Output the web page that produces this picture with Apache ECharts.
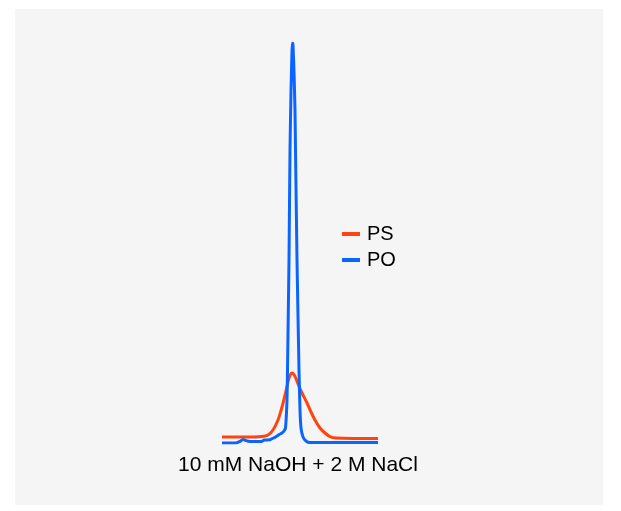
<!DOCTYPE html>
<html>
<head>
    <meta charset="utf-8">
    <title>PS / PO</title>
    <script src="https://cdn.jsdelivr.net/npm/echarts@6/dist/echarts.min.js"></script>
    <style>
        html, body { margin: 0; padding: 0; background: #ffffff; }
        #chart { width: 621px; height: 511px; }
    </style>
</head>
<body>
<div id="chart"></div>
<script>
    // elution position (arbitrary units) and signal
    var psX = [0, 3.3, 4.0, 4.6, 5.1, 5.6, 6.0, 6.3, 6.6, 6.8, 7.0, 7.2, 7.4, 7.6, 8.0, 8.5, 8.9, 9.3, 9.8, 10.3, 10.8, 11.4, 15.6];
    var psY = [1.5, 1.5, 1.6, 2.0, 3.25, 5.75, 9, 12, 15.25, 16.9, 17.5, 17.1, 16.1, 14.8, 12.5, 10, 7.75, 5.75, 3.75, 2.5, 1.6, 1.25, 1.1];

    var poX = [0, 1.4, 1.8, 2.1, 2.4, 2.8, 4.0, 4.2, 4.8, 5.0, 5.3, 5.5, 5.7, 6.0, 6.2, 6.35, 6.5, 6.55, 6.7, 6.8, 6.9, 7.0, 7.05, 7.1, 7.2, 7.3, 7.35, 7.5, 7.7, 7.8, 7.9, 8.1, 8.4, 8.8, 15.6];
    var poY = [0, 0, 0.4, 0.9, 0.6, 0.4, 0.4, 0.75, 0.8, 1.1, 1.4, 1.75, 2.1, 2.5, 3, 3.75, 10.75, 18.25, 45.75, 73.25, 88, 98, 100, 99.5, 93, 83, 73.25, 45.75, 18.25, 8.25, 3.75, 1.5, 0.5, 0.1, 0.1];

    var seriesNames = ['PS', 'PO'];
    var colors = ['#ff4410', '#0a64ff'];
    var caption = '10 mM NaOH + 2 M NaCl';

    function pairs(xs, ys) {
        var out = [];
        for (var i = 0; i < xs.length; i++) {
            out.push([xs[i], ys[i]]);
        }
        return out;
    }

    var myChart = echarts.init(document.getElementById('chart'));
    var option = {
        backgroundColor: '#ffffff',
        animation: false,
        color: colors,
        graphic: [{
            type: 'rect',
            z: -10,
            shape: { x: 15, y: 9, width: 588, height: 496 },
            style: { fill: '#f5f5f5' }
        }, {
            type: 'text',
            x: 298,
            y: 465,
            style: {
                text: caption,
                fill: '#000000',
                font: '21px "Liberation Sans", Arial, sans-serif',
                align: 'center',
                verticalAlign: 'middle'
            }
        }],
        legend: {
            orient: 'vertical',
            left: 342,
            top: 224,
            padding: 0,
            itemWidth: 18,
            itemHeight: 4,
            itemGap: 6,
            icon: 'rect',
            textStyle: {
                color: '#000000',
                fontSize: 20,
                fontFamily: '"Liberation Sans", Arial, sans-serif',
                padding: [0, 0, 0, 2]
            },
            data: seriesNames
        },
        grid: {
            left: 222,
            right: 243,
            top: 43,
            bottom: 68
        },
        xAxis: {
            type: 'value',
            min: 0,
            max: 15.6,
            show: false
        },
        yAxis: {
            type: 'value',
            min: 0,
            max: 100,
            show: false
        },
        series: [{
            name: seriesNames[0],
            type: 'line',
            showSymbol: false,
            smooth: 0.3,
            lineStyle: { width: 3 },
            data: pairs(psX, psY)
        }, {
            name: seriesNames[1],
            type: 'line',
            showSymbol: false,
            smooth: 0.15,
            lineStyle: { width: 3 },
            data: pairs(poX, poY)
        }]
    };
    myChart.setOption(option);
</script>
</body>
</html>
